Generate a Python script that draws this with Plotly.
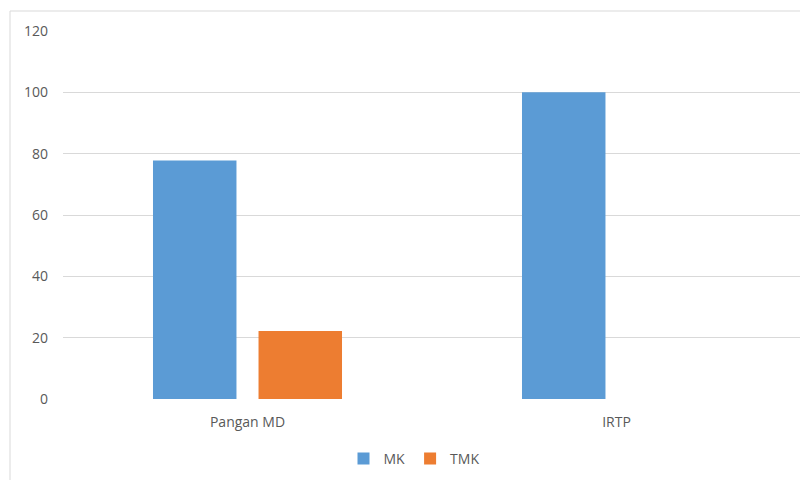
import plotly.graph_objects as go

categories = ["Pangan MD", "IRTP"]
mk_values = [77.8, 100]
tmk_values = [22.2, 0]
series_names = ["MK", "TMK"]
y_ticks = [0, 20, 40, 60, 80, 100, 120]

# page is rendered with an 8px body margin; compensate in figure margins
OFF = 8
L, T = 63 - OFF, 31 - OFF
W, H = 808, 480
R = W - (801 - OFF)
B = H - (399 - OFF)
pw, ph = W - L - R, H - T - B

fig = go.Figure()
fig.add_trace(go.Bar(name=series_names[0], x=categories, y=mk_values,
                     marker=dict(color="#5B9BD5", line=dict(width=0))))
fig.add_trace(go.Bar(name=series_names[1], x=categories, y=tmk_values,
                     marker=dict(color="#ED7D31", line=dict(width=0))))

font = dict(family="Open Sans, Liberation Sans, sans-serif", size=14, color="#595959")

fig.update_layout(
    width=W, height=H,
    margin=dict(l=L, r=R, t=T, b=B),
    paper_bgcolor="white", plot_bgcolor="white",
    barmode="group", bargap=0.428, bargroupgap=0.209,
    font=font,
    showlegend=True,
    legend=dict(orientation="h", x=0.5 - 18 / pw, xanchor="center",
                y=(399 - 459) / ph, yanchor="middle",
                font=dict(size=14, color="#595959"),
                itemwidth=30, traceorder="normal"),
    xaxis=dict(showgrid=False, showline=False, ticks="", zeroline=False,
               tickfont=dict(size=14, color="#595959"), ticklabelstandoff=13),
    yaxis=dict(range=[0, 120], tickvals=y_ticks, showgrid=True, gridcolor="#d9d9d9",
               gridwidth=1, zeroline=False, showline=False, ticks="",
               tickfont=dict(size=14, color="#595959"), ticklabelstandoff=14),
)

fig.add_shape(type="rect", xref="paper", yref="paper",
              x0=(10 - 63) / pw, x1=(815 - 63) / pw,
              y0=(399 - 490) / ph, y1=(399 - 11) / ph,
              line=dict(color="#d9d9d9", width=1), fillcolor="rgba(0,0,0,0)", layer="below")

fig.write_html("out.html")
